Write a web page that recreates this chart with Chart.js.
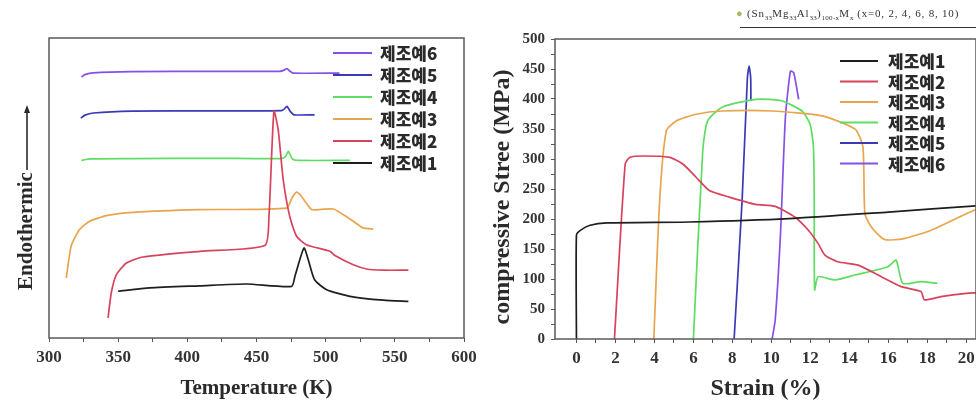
<!DOCTYPE html>
<html><head><meta charset="utf-8">
<script src="https://cdn.jsdelivr.net/npm/chart.js@4"></script>
<style>
html,body{margin:0;padding:0;background:#fff;width:976px;height:407px;overflow:hidden;position:relative;}
#c1{position:absolute;left:0;top:0;}
#c2{position:absolute;left:490px;top:0;}
#formula{position:absolute;left:736px;top:7px;font-family:"Liberation Serif",serif;font-size:11px;letter-spacing:0.8px;color:#333;white-space:nowrap;}
#formula sub{font-size:7px;letter-spacing:0.3px;}
#rule{position:absolute;left:740px;top:27px;width:236px;height:1px;background:#333;}
</style></head><body>
<canvas id="c1" width="490" height="407"></canvas>
<canvas id="c2" width="486" height="407"></canvas>
<div id="formula"><span style="color:#a9b85e">●</span> (Sn<sub>33</sub>Mg<sub>33</sub>Al<sub>33</sub>)<sub>100-x</sub>M<sub>x</sub> (x=0, 2, 4, 6, 8, 10)</div>
<div id="rule"></div>
<script>
// ---- data ----
const seriesNames = ['제조예1','제조예2','제조예3','제조예4','제조예5','제조예6'];
const seriesColors = ['#1e1e1e','#d8435b','#e9a54e','#5fdd63','#3a3ab8','#8650e6'];

// Left: DSC (Temperature K vs Endothermic, arbitrary units)
const dsc1T = [350, 372.8, 409, 442.8, 475.4, 477.8, 484.3, 487.4, 492, 500.7, 517.6, 541.7, 559.8];
const dsc1V = [15.6, 16.7, 17.4, 18.0, 17.2, 20.6, 30.0, 26.1, 19.4, 16.1, 13.9, 12.6, 12.2];
const dsc2T = [342.7, 345, 348.7, 356, 368, 409, 456, 459, 462.6, 465.7, 469.3, 474, 479, 486, 503, 507, 520, 529.6, 541.7, 559.8];
const dsc2V = [6.7, 15, 21.1, 25, 27, 28.9, 30.8, 40.6, 75.6, 69.4, 52.8, 40.6, 33.9, 31.1, 28.9, 27.4, 24.4, 23.0, 22.6, 22.6];
const dsc3T = [312.5, 316, 322, 329.4, 341.5, 360.8, 409, 471.7, 476, 479, 482, 490, 497, 505.5, 510, 520, 527, 534.4];
const dsc3V = [20, 30.6, 36.1, 38.9, 40.8, 41.9, 42.8, 43.3, 47, 48.6, 47.5, 42.8, 42.9, 43, 41.9, 38.9, 36.7, 36.3];
const dsc4T = [323.4, 330, 360, 420, 468, 471, 473, 476, 480, 517.5];
const dsc4V = [59.2, 59.7, 59.8, 59.9, 59.8, 60.5, 62.2, 59.6, 59.2, 59.2];
const dsc5T = [323, 326, 332, 360, 420, 468, 470, 472, 474.5, 477, 492];
const dsc5V = [73.3, 74.3, 75.0, 75.6, 75.7, 75.8, 76.3, 77.2, 75.5, 74.4, 74.4];
const dsc6T = [323.4, 326, 332, 360, 420, 467, 470, 472, 474, 476.5, 510];
const dsc6V = [87.0, 87.8, 88.4, 88.8, 88.9, 88.9, 89.3, 89.8, 89.0, 88.3, 88.3];
const leftXTicks = [300,325,350,375,400,425,450,475,500,525,550,575,600];

// Right: compressive stress-strain
const ss1X = [0, 0, 0.2, 0.7, 1.56, 5.8, 10.9, 16, 20.5];
const ss1Y = [0, 173, 181, 189.5, 193.4, 195, 200.5, 211.6, 222];
const ss2X = [1.95, 2.5, 2.75, 3.43, 4.78, 5.46, 6.14, 6.82, 7.84, 9.2, 10.2, 11.2, 11.9, 12.4, 12.75, 13.4, 14.45, 15.64, 16.66, 17.68, 17.85, 18.7, 20, 20.5];
const ss2Y = [0, 291.7, 302.8, 305, 302.8, 291.7, 269.6, 247.5, 236.5, 224.3, 221, 203.3, 181.2, 159, 139.8, 128.7, 123.2, 103.9, 87.3, 79, 65.2, 70.7, 76.2, 77];
const ss3X = [3.97, 4.27, 4.61, 5.12, 6.14, 7.5, 10.04, 12.6, 14.3, 14.7, 14.8, 15.13, 15.8, 16.8, 18.2, 20, 20.5];
const ss3Y = [0, 231, 347, 363.5, 374.6, 380, 380, 371.8, 349.7, 319.3, 208.8, 186.7, 165.8, 167.4, 181.2, 208.8, 216];
const ss4X = [6.0, 6.48, 6.73, 7.5, 9.2, 10.55, 11.57, 11.99, 12.16, 12.2, 12.22, 12.4, 13.27, 14.28, 15.98, 16.4, 16.74, 17.68, 18.52];
const ss4Y = [0, 313.8, 363.5, 386.8, 399.5, 396.7, 380, 358, 319.3, 231, 81.8, 103.9, 98.3, 106.6, 120.4, 131.5, 92.8, 95.6, 92.8];
const ss5X = [8.09, 8.5, 8.77, 8.86, 8.94, 8.95];
const ss5Y = [0, 231, 435, 454.7, 435, 396.7];
const ss6X = [10.04, 10.2, 10.47, 10.72, 10.98, 11.15, 11.4];
const ss6Y = [0, 32, 175.7, 369, 446.4, 443.6, 399.5];
const rightXTicks = [0,1,2,3,4,5,6,7,8,9,10,11,12,13,14,15,16,17,18,19,20];
const rightYTicks = [0,25,50,75,100,125,150,175,200,225,250,275,300,325,350,375,400,425,450,475,500];

// ---- helpers ----
const pts = (xs, ys) => xs.map((x, i) => ({x, y: ys[i]}));
const serif = '"Liberation Serif","Times New Roman",serif';
const mkDs = (i, xs, ys) => ({
  label: seriesNames[i], data: pts(xs, ys), borderColor: seriesColors[i], backgroundColor: seriesColors[i],
  showLine: true, pointRadius: 0, borderWidth: 1.7, tension: 0.2, fill: false
});

const framePlugin = {
  id: 'frame',
  afterDatasetsDraw(chart) {
    const {ctx, chartArea: a} = chart;
    ctx.save();
    ctx.strokeStyle = '#5a5a5a'; ctx.lineWidth = 1.5;
    ctx.strokeRect(a.left, a.top, a.right - a.left, a.bottom - a.top);
    ctx.restore();
  }
};
const legendPlugin = {
  id: 'inlegend',
  afterDatasetsDraw(chart, args, o) {
    const ctx = chart.ctx;
    ctx.save();
    ctx.font = '900 17px "Noto Sans CJK KR"';
    ctx.textBaseline = 'middle'; ctx.textAlign = 'left';
    o.order.forEach((di, i) => {
      const ds = chart.data.datasets[di];
      const y = o.y + i * o.gap;
      ctx.strokeStyle = ds.borderColor; ctx.lineWidth = 2;
      ctx.beginPath(); ctx.moveTo(o.x1, y); ctx.lineTo(o.x2, y); ctx.stroke();
      ctx.fillStyle = '#2a2a2a'; ctx.fillText(ds.label, o.tx, y + 1);
    });
    ctx.restore();
  }
};
const vTitlePlugin = {
  id: 'vtitle',
  afterDraw(chart, args, o) {
    const ctx = chart.ctx;
    ctx.save();
    ctx.fillStyle = '#2a2a2a';
    ctx.translate(o.x, o.y); ctx.rotate(-Math.PI / 2);
    ctx.font = 'bold ' + o.size + 'px ' + serif;
    ctx.textAlign = 'center'; ctx.textBaseline = 'middle';
    ctx.fillText(o.text, 0, 0);
    ctx.restore();
    if (o.arrow) {
      ctx.save();
      ctx.strokeStyle = '#2a2a2a'; ctx.fillStyle = '#2a2a2a'; ctx.lineWidth = 1.6;
      ctx.beginPath(); ctx.moveTo(o.x, o.arrow[0]); ctx.lineTo(o.x, o.arrow[1] + 5); ctx.stroke();
      ctx.beginPath(); ctx.moveTo(o.x, o.arrow[1]); ctx.lineTo(o.x - 3, o.arrow[1] + 8); ctx.lineTo(o.x + 3, o.arrow[1] + 8); ctx.closePath(); ctx.fill();
      ctx.restore();
    }
  }
};
const zeroPad = s => { s.paddingLeft = 0; s.paddingRight = 0; s.paddingTop = 0; s.paddingBottom = 0; };

// ---- left chart ----
new Chart(document.getElementById('c1'), {
  type: 'scatter',
  data: { datasets: [
    mkDs(0, dsc1T, dsc1V), mkDs(1, dsc2T, dsc2V), mkDs(2, dsc3T, dsc3V),
    mkDs(3, dsc4T, dsc4V), mkDs(4, dsc5T, dsc5V), mkDs(5, dsc6T, dsc6V)
  ]},
  options: {
    responsive: false, animation: false, devicePixelRatio: 1,
    layout: { padding: { left: 0, right: 26, top: 38, bottom: 0 } },
    plugins: {
      legend: { display: false }, tooltip: { enabled: false },
      inlegend: { order: [5,4,3,2,1,0], x1: 333, x2: 372, tx: 380, y: 53, gap: 22 },
      vtitle: { text: 'Endothermic', x: 27, y: 231, size: 21, arrow: [170, 105] }
    },
    scales: {
      x: {
        type: 'linear', min: 300, max: 600,
        afterBuildTicks: s => { s.ticks = leftXTicks.map(v => ({value: v})); },
        afterFit: s => { s.height = 69; zeroPad(s); },
        ticks: { callback: v => (v % 50 === 0 ? String(v) : ''), color: '#333', padding: 5, maxRotation: 0, autoSkip: false,
          font: { family: serif, size: 17, weight: 'bold' } },
        grid: { drawOnChartArea: false, drawTicks: true, tickLength: 4, color: '#555' },
        border: { display: false },
        title: { display: true, text: 'Temperature (K)', color: '#2a2a2a', padding: { top: 0, bottom: 6 },
          font: { family: serif, size: 21, weight: 'bold' } }
      },
      y: {
        type: 'linear', min: 0, max: 100,
        afterFit: s => { s.width = 49; zeroPad(s); },
        ticks: { display: false }, grid: { display: false }, border: { display: false }
      }
    }
  },
  plugins: [framePlugin, legendPlugin, vTitlePlugin]
});

// ---- right chart ----
new Chart(document.getElementById('c2'), {
  type: 'scatter',
  data: { datasets: [
    mkDs(0, ss1X, ss1Y), mkDs(1, ss2X, ss2Y), mkDs(2, ss3X, ss3Y),
    mkDs(3, ss4X, ss4Y), mkDs(4, ss5X, ss5Y), mkDs(5, ss6X, ss6Y)
  ]},
  options: {
    responsive: false, animation: false, devicePixelRatio: 1,
    layout: { padding: { left: 0, right: 0, top: 39, bottom: 0 } },
    plugins: {
      legend: { display: false }, tooltip: { enabled: false },
      inlegend: { order: [0,1,2,3,4,5], x1: 350, x2: 388, tx: 398, y: 61, gap: 20.5 },
      vtitle: { text: 'compressive Stree (MPa)', x: 13, y: 197, size: 24 }
    },
    scales: {
      x: {
        type: 'linear', min: -1.1, max: 20.5,
        afterBuildTicks: s => { s.ticks = rightXTicks.map(v => ({value: v})); },
        afterFit: s => { s.height = 68; zeroPad(s); },
        ticks: { callback: v => (v % 2 === 0 ? String(v) : ''), color: '#333', padding: 5, maxRotation: 0, autoSkip: false,
          font: { family: serif, size: 17, weight: 'bold' } },
        grid: { drawOnChartArea: false, drawTicks: true, tickLength: 4, color: '#555' },
        border: { display: false },
        title: { display: true, text: 'Strain (%)', color: '#2a2a2a', padding: { top: 0, bottom: 4 },
          font: { family: serif, size: 24, weight: 'bold' } }
      },
      y: {
        type: 'linear', min: 0, max: 500,
        afterBuildTicks: s => { s.ticks = rightYTicks.map(v => ({value: v})); },
        afterFit: s => { s.width = 65; zeroPad(s); },
        ticks: { callback: v => (v % 50 === 0 ? String(v) : ''), color: '#333', padding: 6, autoSkip: false,
          font: { family: serif, size: 15, weight: 'bold' } },
        grid: { drawOnChartArea: false, drawTicks: true, tickLength: 4, color: '#555' },
        border: { display: false }
      }
    }
  },
  plugins: [framePlugin, legendPlugin, vTitlePlugin]
});
</script>
</body></html>
